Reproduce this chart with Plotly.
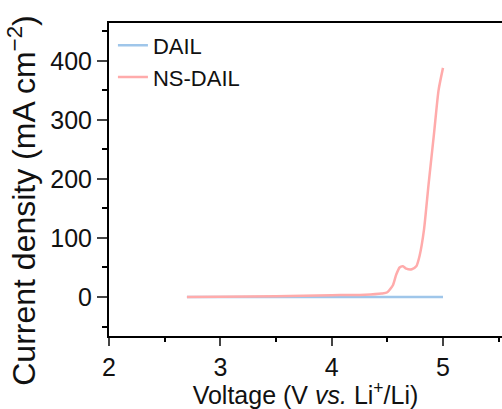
import plotly.graph_objects as go

voltage_dail = [2.7, 3.0, 3.5, 4.0, 4.5, 5.0]
current_dail = [0, 0, 0, 0, 0, 0]

voltage_ns = [2.7, 3.0, 3.5, 4.0, 4.3, 4.45, 4.5, 4.55, 4.58, 4.61, 4.64, 4.67, 4.72,
              4.76, 4.79, 4.83, 4.87, 4.92, 4.96, 5.0]
current_ns = [0, 0.5, 1.5, 3, 4, 6, 8, 20, 38, 50, 52, 48, 47,
              52, 70, 115, 190, 278, 350, 388]

fig = go.Figure()
fig.add_trace(go.Scatter(x=voltage_dail, y=current_dail, mode="lines", name="DAIL",
                         line=dict(color="#9fc6ea", width=2.5)))
fig.add_trace(go.Scatter(x=voltage_ns, y=current_ns, mode="lines", name="NS-DAIL",
                         line=dict(color="#ffabab", width=2.5, shape="spline", smoothing=0.6)))

font_family = "Liberation Sans, Arial, Helvetica, sans-serif"
fig.update_layout(
    width=502, height=409,
    margin=dict(l=109, r=0, t=23, b=73),
    plot_bgcolor="white", paper_bgcolor="white",
    font=dict(family=font_family, color="#111", size=25),
    showlegend=True,
    legend=dict(x=0.01, y=0.995, xanchor="left", yanchor="top",
                font=dict(size=22, family=font_family), bgcolor="rgba(0,0,0,0)",
                itemwidth=30, tracegroupgap=0),
    xaxis=dict(range=[2, 5.53], tick0=2, dtick=1, ticks="outside", ticklen=8, tickwidth=2,
               showline=True, linewidth=2, linecolor="black", mirror=True,
               showgrid=False, zeroline=False, tickfont=dict(size=25),
               minor=dict(dtick=0.5, ticks="outside", ticklen=4, tickwidth=2, tickcolor="black"),
               title=dict(text="Voltage (V <i>vs.</i> Li<sup>+</sup>/Li)", font=dict(size=25), standoff=2)),
    yaxis=dict(range=[-66, 464], tick0=0, dtick=100, ticks="outside", ticklen=10, tickwidth=2,
               showline=True, linewidth=2, linecolor="black", mirror=False,
               showgrid=False, zeroline=False, tickfont=dict(size=25),
               minor=dict(dtick=50, ticks="outside", ticklen=5, tickwidth=2, tickcolor="black")),
    annotations=[dict(text="Current density (mA cm<sup>−2</sup>)", textangle=-90,
                      xref="paper", yref="paper", x=-0.222, y=0.4345,
                      xanchor="center", yanchor="middle", showarrow=False,
                      font=dict(size=32, family=font_family, color="#111"))],
)

fig.write_html("out.html")
